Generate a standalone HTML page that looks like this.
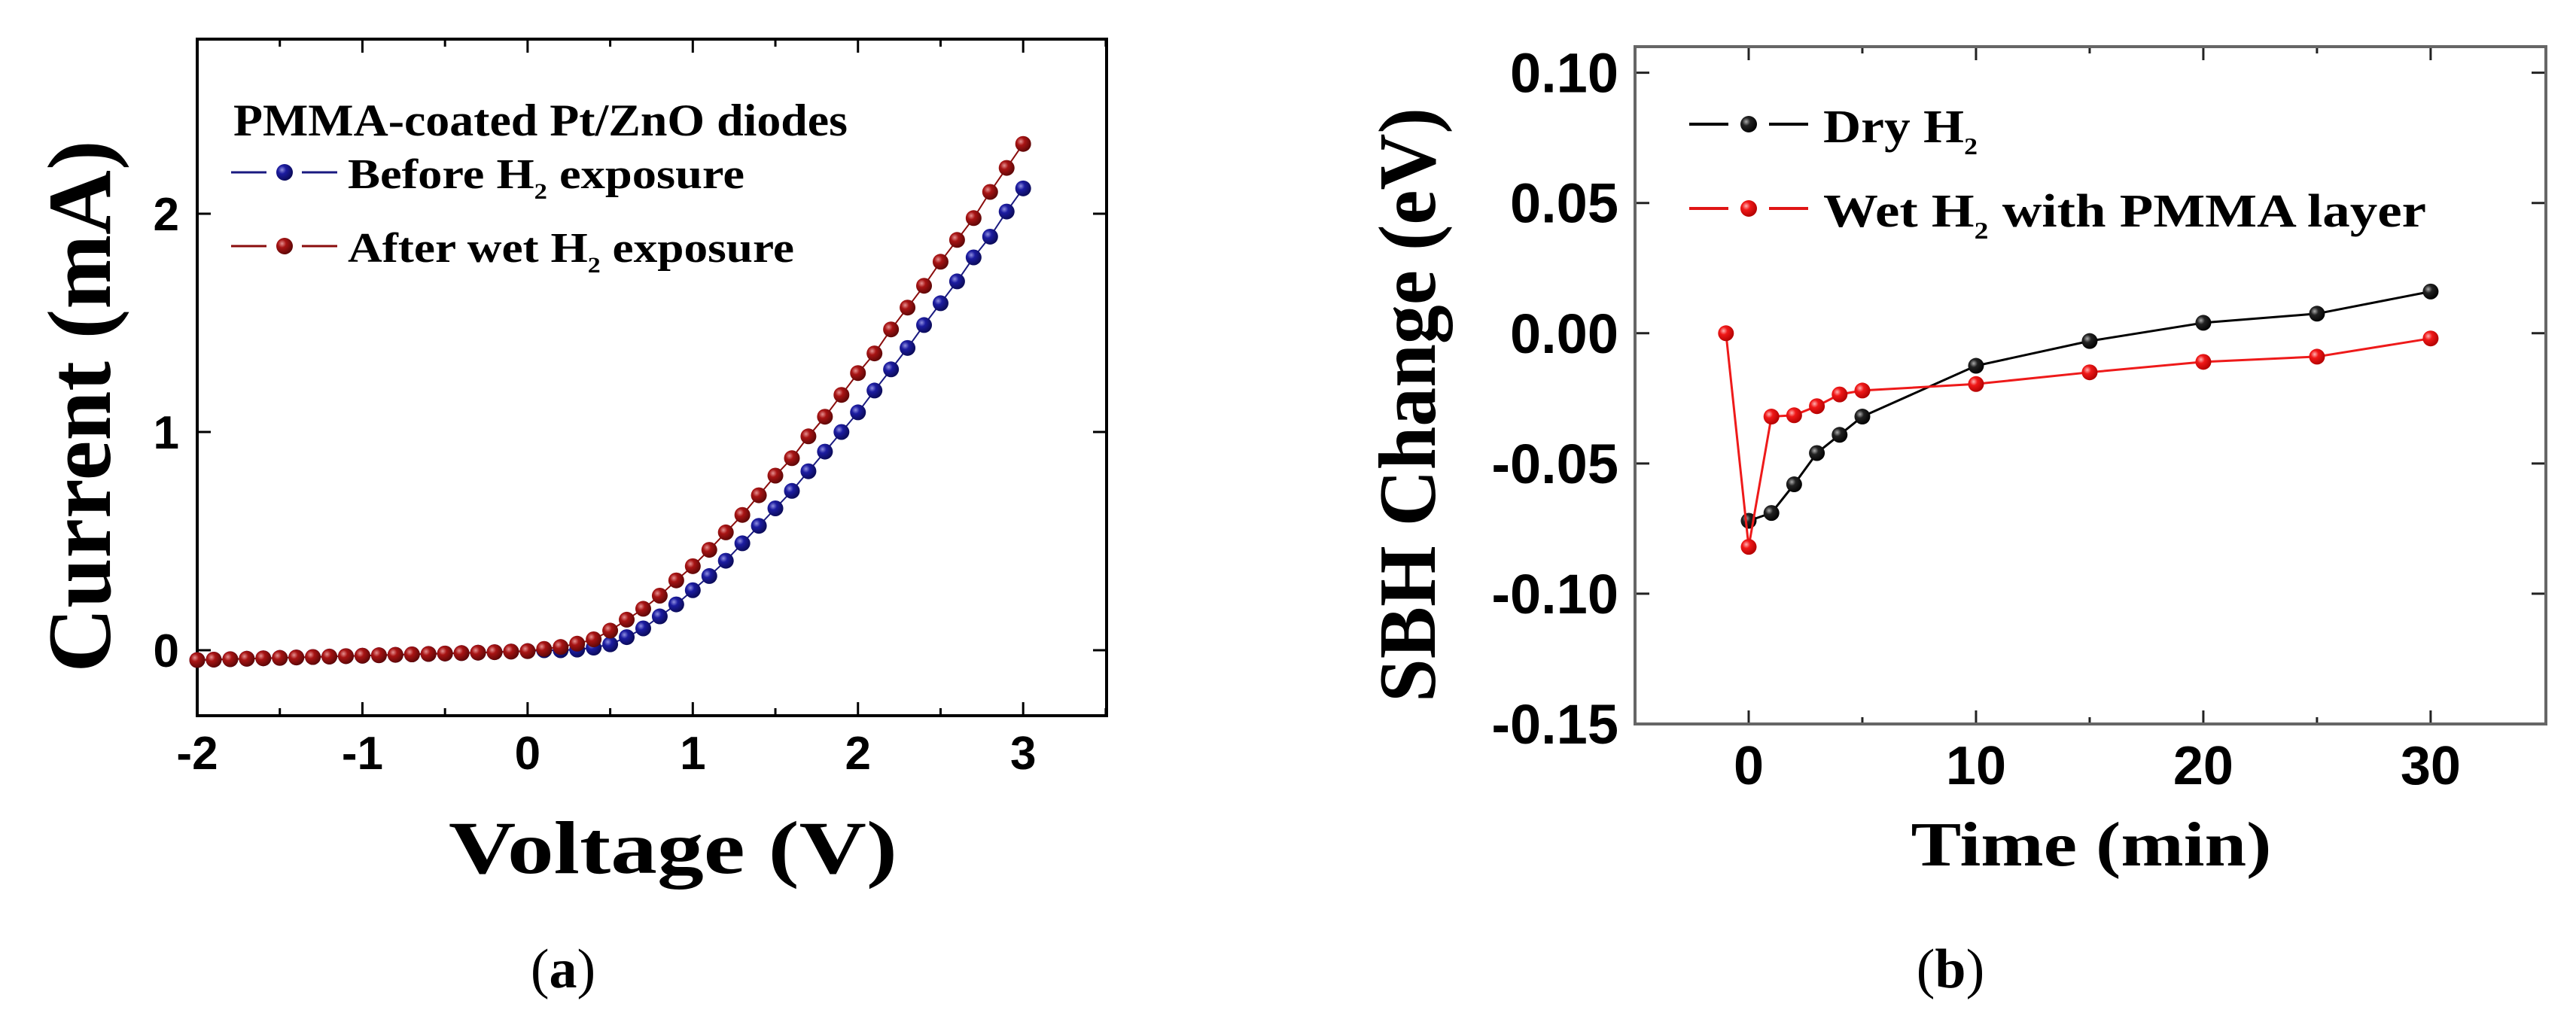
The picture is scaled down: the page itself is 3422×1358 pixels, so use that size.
<!DOCTYPE html>
<html><head><meta charset="utf-8">
<style>
html,body{margin:0;padding:0;background:#fff;}
svg{display:block;}
.tk{font-family:"Liberation Sans",sans-serif;font-weight:bold;fill:#000;}
.ttl{font-family:"Liberation Serif","DejaVu Serif",serif;font-weight:bold;fill:#000;}
.cap{font-family:"Liberation Serif",serif;fill:#000;}
</style></head>
<body>
<svg id="fig" width="3422" height="1358" viewBox="0 0 3422 1358" xmlns="http://www.w3.org/2000/svg">
<defs>
<radialGradient id="gBlue" cx="0.35" cy="0.35" r="0.7"><stop offset="0" stop-color="#8f8fe0"/><stop offset="0.35" stop-color="#1c1ca0"/><stop offset="1" stop-color="#0a0a55"/></radialGradient>
<radialGradient id="gDred" cx="0.35" cy="0.35" r="0.7"><stop offset="0" stop-color="#e59090"/><stop offset="0.35" stop-color="#a81414"/><stop offset="1" stop-color="#5a0606"/></radialGradient>
<radialGradient id="gBlack" cx="0.35" cy="0.35" r="0.7"><stop offset="0" stop-color="#aaa"/><stop offset="0.35" stop-color="#222"/><stop offset="1" stop-color="#000"/></radialGradient>
<radialGradient id="gRed" cx="0.35" cy="0.35" r="0.7"><stop offset="0" stop-color="#ffb0b0"/><stop offset="0.35" stop-color="#f01818"/><stop offset="1" stop-color="#b00000"/></radialGradient>
</defs>
<g id="panelA"></g>
<g id="panelB"></g>
<text class="cap" x="748" y="1312" font-size="74" text-anchor="middle">(<tspan font-weight="bold">a</tspan>)</text>
<text class="cap" x="2591" y="1312" font-size="74" text-anchor="middle">(<tspan font-weight="bold">b</tspan>)</text>
</svg>
<script>
// ---------- Panel A data ----------
const voltageA = [];
for (let i = 0; i <= 50; i++) voltageA.push(Math.round((-2 + i * 0.1) * 10) / 10);
const afterWetCurrent = [-0.045,-0.043,-0.041,-0.039,-0.037,-0.035,-0.033,-0.031,-0.029,-0.027,-0.025,-0.023,-0.021,-0.019,-0.017,-0.015,-0.013,-0.011,-0.009,-0.006,-0.004,
 0.006,0.015,0.03,0.05,0.09,0.14,0.19,0.25,0.32,0.385,0.46,0.54,0.62,0.71,0.80,0.88,0.98,1.07,1.17,1.27,1.36,1.47,1.57,1.67,1.78,1.88,1.98,2.10,2.21,2.32];
const beforeCurrent = [-0.045,-0.043,-0.041,-0.039,-0.037,-0.035,-0.033,-0.031,-0.029,-0.027,-0.025,-0.023,-0.021,-0.019,-0.017,-0.015,-0.013,-0.011,-0.009,-0.006,-0.004,
 0.0,0.0,0.003,0.012,0.027,0.06,0.10,0.155,0.21,0.275,0.34,0.41,0.49,0.57,0.65,0.73,0.82,0.91,1.0,1.09,1.19,1.287,1.385,1.49,1.59,1.69,1.80,1.895,2.01,2.116];
const xTicksA = [-2,-1,0,1,2,3];
const xTickLabelsA = ["-2","-1","0","1","2","3"];
const yTicksA = [0,1,2];
const yTickLabelsA = ["0","1","2"];

// ---------- Panel B data ----------
const timeDry = [0,1,2,3,4,5,10,15,20,25,30];
const dryH2 = [-0.072,-0.069,-0.058,-0.046,-0.039,-0.032,-0.0125,-0.003,0.004,0.0075,0.016];
const timeWet = [-1,0,1,2,3,4,5,10,15,20,25,30];
const wetH2Pmma = [0,-0.082,-0.032,-0.0315,-0.028,-0.0235,-0.022,-0.0195,-0.015,-0.011,-0.009,-0.002];
const xTicksB = [0,10,20,30];
const xTickLabelsB = ["0","10","20","30"];
const yTicksB = [0.10,0.05,0.00,-0.05,-0.10,-0.15];
const yTickLabelsB = ["0.10","0.05","0.00","-0.05","-0.10","-0.15"];

const NS = "http://www.w3.org/2000/svg";
function mk(parent, tag, attrs, txt) {
  const e = document.createElementNS(NS, tag);
  for (const k in attrs) e.setAttribute(k, attrs[k]);
  if (txt !== undefined) e.textContent = txt;
  parent.appendChild(e);
  return e;
}

// ================= PANEL A =================
(function(){
  const g = document.getElementById('panelA');
  const L=262,R=1470,T=52,B=951;
  const xmin=-2,xmax=3.505,ymin=-0.3,ymax=2.8;
  const sx = v => L + (v - xmin) / (xmax - xmin) * (R - L);
  const sy = v => B - (v - ymin) / (ymax - ymin) * (B - T);

  // ticks
  [-2,-1.5,-1,-0.5,0,0.5,1,1.5,2,2.5,3,3.5].forEach(v=>{
    if (v > xmax) return;
    const major = Number.isInteger(v);
    const len = major ? 18 : 10;
    const t1 = mk(g,'line',{x1:sx(v),x2:sx(v),y1:B,y2:B-len,stroke:'#000','stroke-width':3});
    
    
    const t2 = mk(g,'line',{x1:sx(v),x2:sx(v),y1:T,y2:T+len,stroke:'#000','stroke-width':3});
    
    
  });
  yTicksA.forEach((v,i)=>{
    const t1 = mk(g,'line',{x1:L,x2:L+18,y1:sy(v),y2:sy(v),stroke:'#000','stroke-width':3});
    
    
    const t2 = mk(g,'line',{x1:R,x2:R-18,y1:sy(v),y2:sy(v),stroke:'#000','stroke-width':3});
    
    
    const lb = mk(g,'text',{class:'tk',x:238,y:sy(v)+22,'font-size':62,'text-anchor':'end'},yTickLabelsA[i]);
    
    
  });
  xTicksA.forEach((v,i)=>{
    const lb = mk(g,'text',{class:'tk',x:sx(v),y:1022,'font-size':62,'text-anchor':'middle'},xTickLabelsA[i]);
    
    
  });
  const fr = mk(g,'rect',{x:L,y:T,width:R-L,height:B-T,fill:'none',stroke:'#000','stroke-width':4});
  
  

  function series(xs, ys, color, grad, name){
    const sg = mk(g,'g',{});
    
    
    const pts = xs.map((x,i)=>sx(x)+','+sy(ys[i])).join(' ');
    mk(sg,'polyline',{points:pts,fill:'none',stroke:color,'stroke-width':2});
    xs.forEach((x,i)=>{
      const c = mk(sg,'circle',{cx:sx(x),cy:sy(ys[i]),r:10.5,fill:'url(#'+grad+')'});
      
      
    });
  }
  series(voltageA, beforeCurrent, '#1a1a80', 'gBlue', 'before-h2-series');
  series(voltageA, afterWetCurrent, '#8a0c0c', 'gDred', 'after-wet-h2-series');

  // legend
  const lg = mk(g,'g',{});
  
  
  const lt = mk(lg,'text',{class:'ttl',x:310,y:180,'font-size':60,textLength:816,lengthAdjust:'spacingAndGlyphs'},'PMMA-coated Pt/ZnO diodes');
  
  
  [[229,'#1a1a80','gBlue','Before H','2',' exposure',527],[327,'#8a0c0c','gDred','After wet H','2',' exposure',593]].forEach((r,i)=>{
    const e = mk(lg,'g',{});
    
    
    mk(e,'line',{x1:307,x2:354,y1:r[0],y2:r[0],stroke:r[1],'stroke-width':3});
    mk(e,'line',{x1:401,x2:448,y1:r[0],y2:r[0],stroke:r[1],'stroke-width':3});
    mk(e,'circle',{cx:378,cy:r[0],r:11,fill:'url(#'+r[2]+')'});
    const t = mk(e,'text',{class:'ttl',x:462,y:r[0]+21,'font-size':56,textLength:r[6],lengthAdjust:'spacingAndGlyphs'});
    mk(t,'tspan',{},r[3]);
    mk(t,'tspan',{'font-size':30,dy:14},r[4]);
    mk(t,'tspan',{dy:-14},r[5]);
  });

  const yt = mk(g,'text',{class:'ttl',x:0,y:0,'font-size':120,'text-anchor':'middle',textLength:707,lengthAdjust:'spacingAndGlyphs',transform:'translate(146,540) rotate(-90)'},'Current (mA)');
  
  
  const xt = mk(g,'text',{class:'ttl',x:894,y:1160,'font-size':100,'text-anchor':'middle',textLength:596,lengthAdjust:'spacingAndGlyphs'},'Voltage (V)');
  
  
})();

// ================= PANEL B =================
(function(){
  const g = document.getElementById('panelB');
  const L=2172,R=3382,T=62,B=962;
  const xmin=-5,xmax=35.07,ymin=-0.15,ymax=0.11;
  const sx = v => L + (v - xmin) / (xmax - xmin) * (R - L);
  const sy = v => B - (v - ymin) / (ymax - ymin) * (B - T);

  [0,5,10,15,20,25,30].forEach(v=>{
    const major = v % 10 === 0;
    const len = major ? 18 : 9;
    const t1 = mk(g,'line',{x1:sx(v),x2:sx(v),y1:B,y2:B-len,stroke:'#222','stroke-width':3});
    
    
    const t2 = mk(g,'line',{x1:sx(v),x2:sx(v),y1:T,y2:T+len,stroke:'#222','stroke-width':3});
    
    
  });
  yTicksB.forEach((v,i)=>{
    const t1 = mk(g,'line',{x1:L,x2:L+19,y1:sy(v),y2:sy(v),stroke:'#222','stroke-width':3});
    
    
    const t2 = mk(g,'line',{x1:R,x2:R-19,y1:sy(v),y2:sy(v),stroke:'#222','stroke-width':3});
    
    
    const lb = mk(g,'text',{class:'tk',x:2150,y:sy(v)+26,'font-size':74,'text-anchor':'end'},yTickLabelsB[i]);
    
    
  });
  xTicksB.forEach((v,i)=>{
    const lb = mk(g,'text',{class:'tk',x:sx(v),y:1042,'font-size':72,'text-anchor':'middle'},xTickLabelsB[i]);
    
    
  });
  const fr = mk(g,'rect',{x:L,y:T,width:R-L,height:B-T,fill:'none',stroke:'#666','stroke-width':4});
  
  

  function series(xs, ys, color, grad, name){
    const sg = mk(g,'g',{});
    
    
    const pts = xs.map((x,i)=>sx(x)+','+sy(ys[i])).join(' ');
    mk(sg,'polyline',{points:pts,fill:'none',stroke:color,'stroke-width':3});
    xs.forEach((x,i)=>{
      const c = mk(sg,'circle',{cx:sx(x),cy:sy(ys[i]),r:10.5,fill:'url(#'+grad+')'});
      
      
    });
  }
  series(timeDry, dryH2, '#000', 'gBlack', 'dry-h2-series');
  series(timeWet, wetH2Pmma, '#ee1a1a', 'gRed', 'wet-h2-pmma-series');

  const lg = mk(g,'g',{});
  
  
  [[165,'#000','gBlack','Dry H','2','',205],[277,'#e01515','gRed','Wet H','2',' with PMMA layer',801]].forEach((r,i)=>{
    const e = mk(lg,'g',{});
    
    
    mk(e,'line',{x1:2244,x2:2296,y1:r[0],y2:r[0],stroke:r[1],'stroke-width':4});
    mk(e,'line',{x1:2350,x2:2402,y1:r[0],y2:r[0],stroke:r[1],'stroke-width':4});
    mk(e,'circle',{cx:2323,cy:r[0],r:11,fill:'url(#'+r[2]+')'});
    const t = mk(e,'text',{class:'ttl',x:2422,y:r[0]+24,'font-size':62,textLength:r[6],lengthAdjust:'spacingAndGlyphs'});
    mk(t,'tspan',{},r[3]);
    mk(t,'tspan',{'font-size':32,dy:16},r[4]);
    if (r[5]) mk(t,'tspan',{dy:-16},r[5]);
  });

  const yt = mk(g,'text',{class:'ttl',x:0,y:0,'font-size':108,'text-anchor':'middle',textLength:790,lengthAdjust:'spacingAndGlyphs',transform:'translate(1906,538) rotate(-90)'},'SBH Change (eV)');
  
  
  const xt = mk(g,'text',{class:'ttl',x:2778,y:1150,'font-size':84,'text-anchor':'middle',textLength:479,lengthAdjust:'spacingAndGlyphs'},'Time (min)');
  
  
})();
</script>
</body></html>
